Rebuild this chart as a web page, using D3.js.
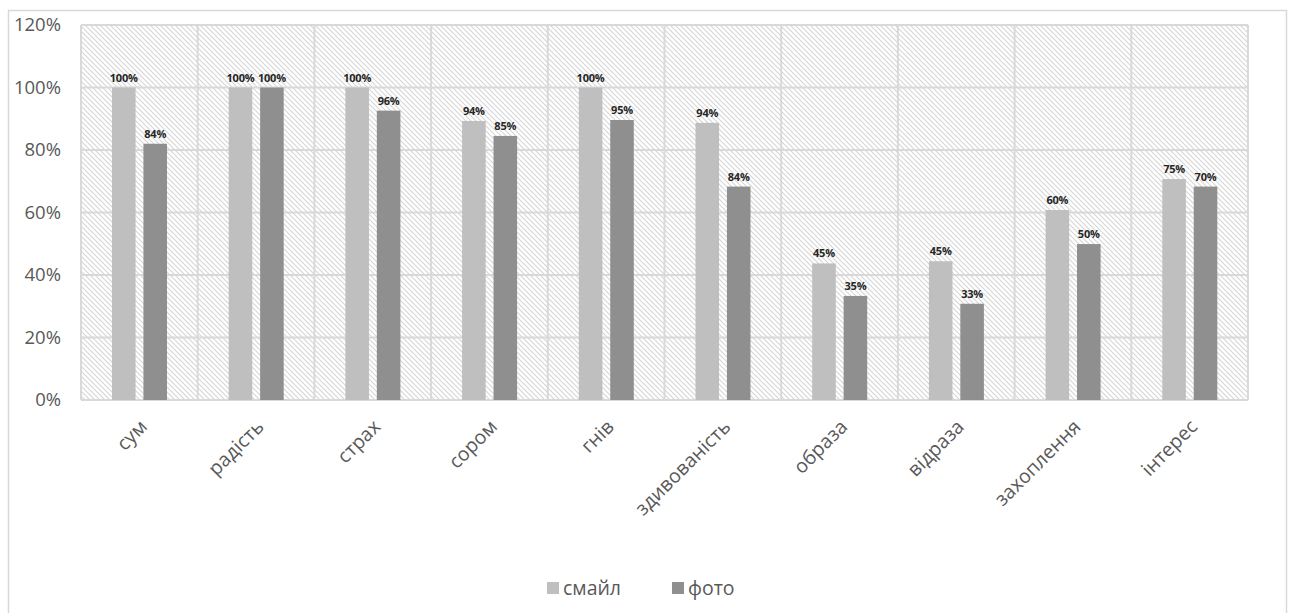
<!DOCTYPE html>
<html>
<head>
<meta charset="utf-8">
<script src="https://cdn.jsdelivr.net/npm/d3@7"></script>
<style>
  body { margin: 0; background: #fff; }
  text { font-family: "Open Sans", "Noto Sans", sans-serif; }
</style>
</head>
<body>
<script>
// categories and series
const categories = ["сум", "радість", "страх", "сором", "гнів", "здивованість", "образа", "відраза", "захоплення", "інтерес"];
const seriesNames = ["смайл", "фото"];
// bar heights as drawn in the picture
const smileValues = [1.00, 1.00, 1.00, 0.893, 1.00, 0.887, 0.437, 0.444, 0.608, 0.707];
const photoValues = [0.82, 1.00, 0.926, 0.845, 0.896, 0.683, 0.333, 0.308, 0.499, 0.683];
// data labels as printed (they do not always match bar heights)
const smileLabels = ["100%", "100%", "100%", "94%", "100%", "94%", "45%", "45%", "60%", "75%"];
const photoLabels = ["84%", "100%", "96%", "85%", "95%", "84%", "35%", "33%", "50%", "70%"];
const yTicks = [0, 0.2, 0.4, 0.6, 0.8, 1.0, 1.2];

const colors = { "смайл": "#bfbfbf", "фото": "#8f8f8f" };

const W = 1292, H = 613;
const plot = { left: 81, right: 1248, top: 25, bottom: 400 };

const svg = d3.select("body").append("svg")
    .attr("width", W)
    .attr("height", H);

// hatch pattern for plot background
const defs = svg.append("defs");
const pat = defs.append("pattern")
    .attr("id", "hatch")
    .attr("patternUnits", "userSpaceOnUse")
    .attr("width", 5)
    .attr("height", 5);
pat.append("rect").attr("width", 5).attr("height", 5).attr("fill", "#fff");
pat.append("path")
    .attr("d", "M0,0 L5,5 M-1,4 L1,6 M4,-1 L6,1")
    .attr("stroke", "#d6d6d6")
    .attr("stroke-width", 1.1);

// outer frame
svg.append("rect")
    .attr("x", 8.5).attr("y", 10.5)
    .attr("width", 1278).attr("height", 610)
    .attr("fill", "#fff")
    .attr("stroke", "#d9d9d9")
    .attr("stroke-width", 1.5);

const x = d3.scaleBand()
    .domain(categories)
    .range([plot.left, plot.right])
    .padding(0);

const x1 = d3.scaleBand()
    .domain(seriesNames)
    .range([31, 86])
    .paddingInner(0.25);

const y = d3.scaleLinear()
    .domain([0, 1.2])
    .range([plot.bottom, plot.top]);

// plot background
svg.append("rect")
    .attr("x", plot.left).attr("y", plot.top)
    .attr("width", plot.right - plot.left)
    .attr("height", plot.bottom - plot.top)
    .attr("fill", "url(#hatch)");

// horizontal grid
svg.append("g")
    .selectAll("line")
    .data(yTicks)
    .enter().append("line")
    .attr("x1", plot.left).attr("x2", plot.right)
    .attr("y1", d => y(d)).attr("y2", d => y(d))
    .attr("stroke", "#d9d9d9")
    .attr("stroke-width", 2);

// vertical grid at category boundaries
const bounds = categories.map(c => x(c)).concat([plot.right]);
svg.append("g")
    .selectAll("line")
    .data(bounds)
    .enter().append("line")
    .attr("x1", d => d).attr("x2", d => d)
    .attr("y1", plot.top).attr("y2", plot.bottom)
    .attr("stroke", "#d9d9d9")
    .attr("stroke-width", 2);

// y axis labels
svg.append("g")
    .attr("transform", `translate(${plot.left},0)`)
    .call(d3.axisLeft(y).tickValues(yTicks).tickFormat(d3.format(".0%")).tickSize(0).tickPadding(20))
    .call(g => g.select(".domain").remove())
    .selectAll("text")
    .style("font-size", "18.5px")
    .style("font-family", "'Open Sans', sans-serif")
    .attr("fill", "#595959");

// bars
const rows = categories.map((c, i) => ({
    cat: c,
    items: [
        { key: "смайл", value: smileValues[i], label: smileLabels[i] },
        { key: "фото", value: photoValues[i], label: photoLabels[i] }
    ]
}));

const groups = svg.append("g")
    .selectAll("g")
    .data(rows)
    .enter().append("g")
    .attr("transform", d => `translate(${x(d.cat)},0)`);

groups.selectAll("rect")
    .data(d => d.items)
    .enter().append("rect")
    .attr("x", d => x1(d.key))
    .attr("y", d => y(d.value))
    .attr("width", x1.bandwidth())
    .attr("height", d => y(0) - y(d.value))
    .attr("fill", d => colors[d.key]);

groups.selectAll("text")
    .data(d => d.items)
    .enter().append("text")
    .attr("x", d => x1(d.key) + x1.bandwidth() / 2)
    .attr("y", d => y(d.value) - 6)
    .attr("text-anchor", "middle")
    .style("font-size", "11px")
    .style("font-weight", "bold")
    .style("letter-spacing", "-0.2px")
    .attr("fill", "#262626")
    .text(d => d.label);

// category labels
svg.append("g")
    .selectAll("text")
    .data(categories)
    .enter().append("text")
    .attr("transform", d => `translate(${x(d) + x.bandwidth() / 2 + 9},428) rotate(-45)`)
    .attr("text-anchor", "end")
    .style("font-size", "19.5px")
    .attr("fill", "#595959")
    .text(d => d);

// legend
const legendItems = [
    { key: "смайл", x: 547 },
    { key: "фото", x: 672 }
];
const legend = svg.append("g")
    .selectAll("g")
    .data(legendItems)
    .enter().append("g")
    .attr("transform", d => `translate(${d.x},582)`);
legend.append("rect")
    .attr("width", 12).attr("height", 12)
    .attr("fill", d => colors[d.key]);
legend.append("text")
    .attr("x", 16).attr("y", 13)
    .style("font-size", "19.5px")
    .attr("fill", "#595959")
    .text(d => d.key);
</script>
</body>
</html>
